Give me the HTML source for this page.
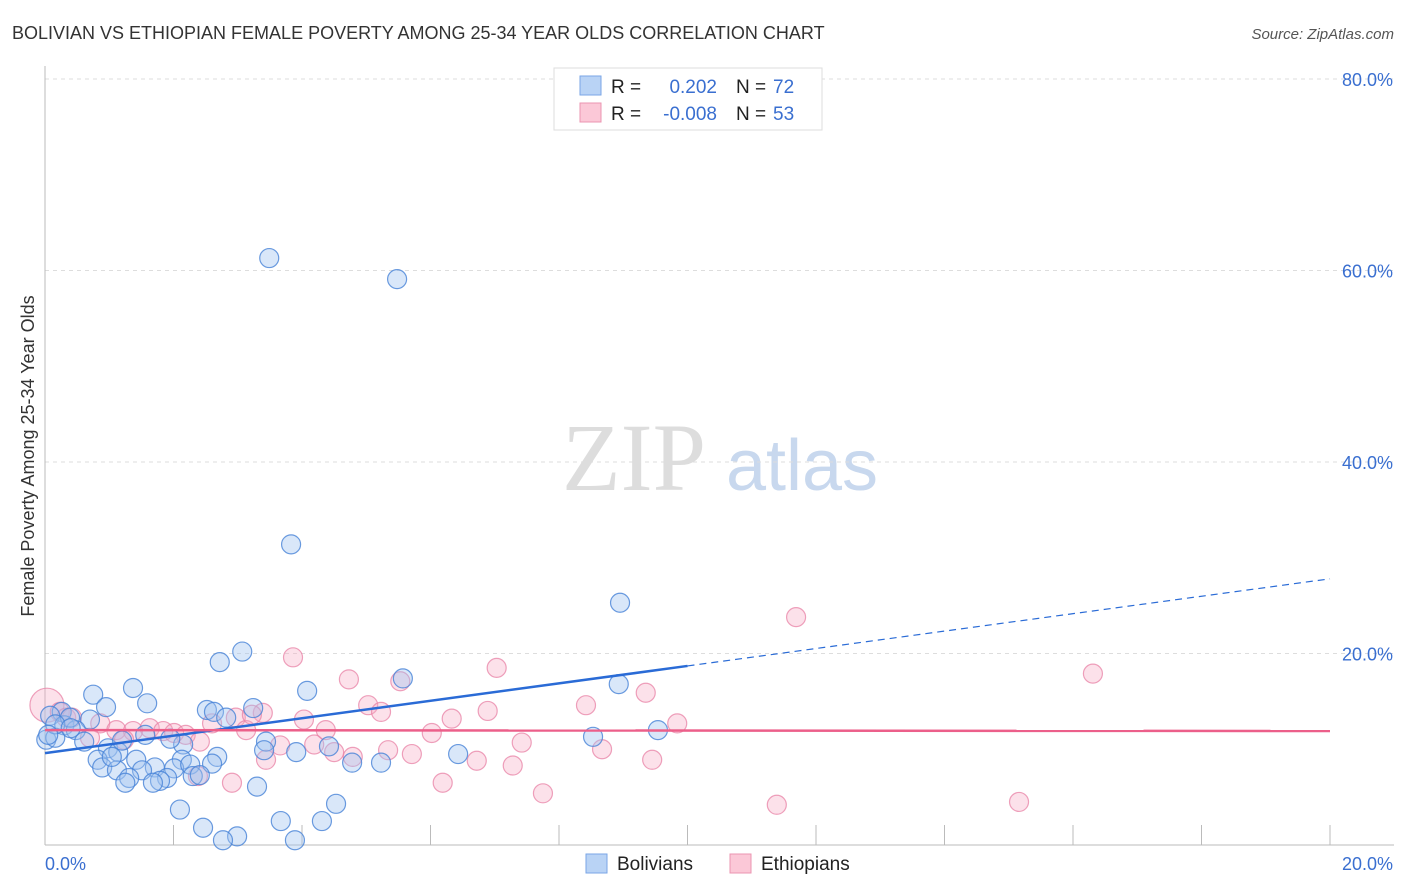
<!DOCTYPE html>
<html><head><meta charset="utf-8"><style>
body{margin:0;background:#fff;font-family:"Liberation Sans",sans-serif;}
svg{display:block}
</style></head><body>
<svg id="chart" width="1406" height="892">
<text x="12" y="39" font-size="18" fill="#333">BOLIVIAN VS ETHIOPIAN FEMALE POVERTY AMONG 25-34 YEAR OLDS CORRELATION CHART</text>
<text x="1394" y="39" font-size="15" fill="#555" font-style="italic" text-anchor="end">Source: ZipAtlas.com</text>
<g>
<text x="634" y="490" font-size="96" font-family="Liberation Serif,serif" fill="#ddd" text-anchor="middle">ZIP</text>
<text x="802" y="490" font-size="72" fill="#c8d8ee" text-anchor="middle">atlas</text>
</g>
<g id="grid"></g>
<g id="axes"></g>
<g id="pts"></g>
<g id="lines"></g>
<text transform="translate(34,456) rotate(-90)" font-size="18" fill="#333" text-anchor="middle">Female Poverty Among 25-34 Year Olds</text>
<g>
<rect x="554" y="68" width="268" height="62" fill="#fff" stroke="#ddd"/>
<rect x="580" y="76" width="21" height="19" fill="#b9d3f5" stroke="#7aa6e6"/>
<rect x="580" y="103" width="21" height="19" fill="#fbc8d7" stroke="#eb94b0"/>
<text x="611" y="93" font-size="19" fill="#222">R =</text>
<text x="717" y="93" font-size="19" fill="#3a6fd0" text-anchor="end">0.202</text>
<text x="736" y="93" font-size="19" fill="#222">N =</text>
<text x="773" y="93" font-size="19" fill="#3a6fd0">72</text>
<text x="611" y="120" font-size="19" fill="#222">R =</text>
<text x="717" y="120" font-size="19" fill="#3a6fd0" text-anchor="end">-0.008</text>
<text x="736" y="120" font-size="19" fill="#222">N =</text>
<text x="773" y="120" font-size="19" fill="#3a6fd0">53</text>
</g>
<g>
<rect x="586" y="854" width="21" height="19" fill="#b9d3f5" stroke="#7aa6e6"/>
<text x="617" y="870" font-size="19" fill="#222">Bolivians</text>
<rect x="730" y="854" width="21" height="19" fill="#fbc8d7" stroke="#eb94b0"/>
<text x="761" y="870" font-size="19" fill="#222">Ethiopians</text>
</g>
</svg>
<script>
const yTicks=[20,40,60,80];
const yTickLabels=["20.0%","40.0%","60.0%","80.0%"];
const xTickLabels=["0.0%","20.0%"];
const bolX=[3.49,5.48,3.83,8.95,3.07,2.72,5.57,4.08,1.37,0.75,1.59,0.95,2.52,3.24,2.63,2.82,8.93,0.26,0.08,0.70,0.30,0.48,1.56,2.15,1.95,3.44,4.42,0.02,0.16,0.61,0.98,1.14,3.41,3.91,6.43,8.53,9.54,0.82,0.89,1.42,2.68,1.71,2.13,2.01,2.60,2.26,1.12,1.51,1.31,1.90,1.79,1.25,1.68,2.30,3.30,2.10,4.53,4.78,5.23,2.46,2.99,2.77,3.67,4.31,3.89,2.41,0.39,0.16,0.05,1.04,0.4,1.2];
const bolY=[61.3,59.1,31.4,25.3,20.2,19.1,17.4,16.1,16.4,15.7,14.8,14.4,14.1,14.3,13.9,13.3,16.8,13.9,13.5,13.1,12.5,12.0,11.5,10.5,11.1,10.8,10.3,11.0,11.2,10.8,10.1,9.7,9.9,9.7,9.5,11.3,12.0,8.9,8.1,8.9,9.2,8.1,8.9,8.0,8.5,8.4,7.8,7.8,7.0,7.0,6.7,6.5,6.5,7.2,6.1,3.7,4.3,8.6,8.6,1.8,0.9,0.5,2.5,2.5,0.5,7.3,13.3,12.6,11.5,9.2,12.2,10.9];
const ethX=[11.69,16.31,3.86,7.03,4.73,5.53,9.35,8.42,6.89,5.03,5.23,6.33,4.03,9.84,6.02,7.42,8.67,3.39,0.03,0.23,0.33,0.86,1.11,1.37,1.63,1.84,2.01,2.19,2.41,2.60,2.97,3.13,3.22,4.19,4.37,4.50,4.79,5.34,5.71,6.72,7.28,9.45,3.44,3.66,2.91,6.19,7.75,11.39,15.16,2.38,1.23,0.70,0.42];
const ethY=[23.8,17.9,19.6,18.5,17.3,17.1,15.9,14.6,14.0,14.6,13.9,13.2,13.1,12.7,11.7,10.7,10.0,13.8,14.6,13.9,13.3,12.7,12.0,11.9,12.2,11.9,11.7,11.5,10.8,12.7,13.3,12.0,13.6,10.5,12.0,9.7,9.2,9.9,9.5,8.8,8.3,8.9,8.9,10.4,6.5,6.5,5.4,4.2,4.5,7.2,11.0,11.2,13.3];
const bolTrend=[9.6,0.91];
const ethTrend=[12.0,-0.005];
const X0=45,X1=1330,Y0=845,YT=79;
const sx=v=>X0+v/20*(X1-X0);
const sy=v=>Y0-v/80*(Y0-YT);
const NS="http://www.w3.org/2000/svg";
function mk(tag,attrs,parent){const e=document.createElementNS(NS,tag);for(const k in attrs)e.setAttribute(k,attrs[k]);document.getElementById(parent).appendChild(e);return e;}
yTicks.forEach((t,i)=>{
 const g=mk('line',{x1:X0,x2:1394,y1:sy(t),y2:sy(t),stroke:'#ddd','stroke-dasharray':'4,4'},'grid');
 
 
 const l=mk('text',{x:1393,y:sy(t)+7,'font-size':18,fill:'#3a6fd0','text-anchor':'end'},'axes');
 l.textContent=yTickLabels[i];
 
 
});
const ax=mk('line',{x1:X0,x2:X0,y1:66,y2:Y0,stroke:'#bbb'},'axes');


const bx=mk('line',{x1:X0,x2:1394,y1:Y0,y2:Y0,stroke:'#bbb'},'axes');


for(let i=1;i<=10;i++){
 const t=mk('line',{x1:sx(i*2),x2:sx(i*2),y1:Y0-20,y2:Y0,stroke:'#bbb'},'axes');
 
 
}
const xl0=mk('text',{x:45,y:870,'font-size':18,fill:'#3a6fd0'},'axes');
xl0.textContent=xTickLabels[0];


const xl1=mk('text',{x:1393,y:870,'font-size':18,fill:'#3a6fd0','text-anchor':'end'},'axes');
xl1.textContent=xTickLabels[1];


ethX.forEach((x,i)=>{
 const c=mk('circle',{cx:sx(x),cy:sy(ethY[i]),r:i===18?17:9.5,fill:'rgba(246,170,195,0.35)',stroke:'rgba(232,130,165,0.75)','stroke-width':1.2},'pts');
 
 
});
bolX.forEach((x,i)=>{
 const c=mk('circle',{cx:sx(x),cy:sy(bolY[i]),r:9.5,fill:'rgba(160,195,240,0.4)',stroke:'rgba(70,130,215,0.8)','stroke-width':1.2},'pts');
 
 
});
const bt=x=>bolTrend[0]+bolTrend[1]*x;
const et=x=>ethTrend[0]+ethTrend[1]*x;
const l1=mk('line',{x1:sx(0),y1:sy(bt(0)),x2:sx(10),y2:sy(bt(10)),stroke:'#2a6bd6','stroke-width':2.5},'lines');


const l2=mk('line',{x1:sx(10),y1:sy(bt(10)),x2:sx(20),y2:sy(bt(20)),stroke:'#2a6bd6','stroke-width':1.2,'stroke-dasharray':'7,5'},'lines');


const l3=mk('line',{x1:sx(0),y1:sy(et(0)),x2:sx(20),y2:sy(et(20)),stroke:'#ec5f8a','stroke-width':2.5},'lines');


</script>
</body></html>
